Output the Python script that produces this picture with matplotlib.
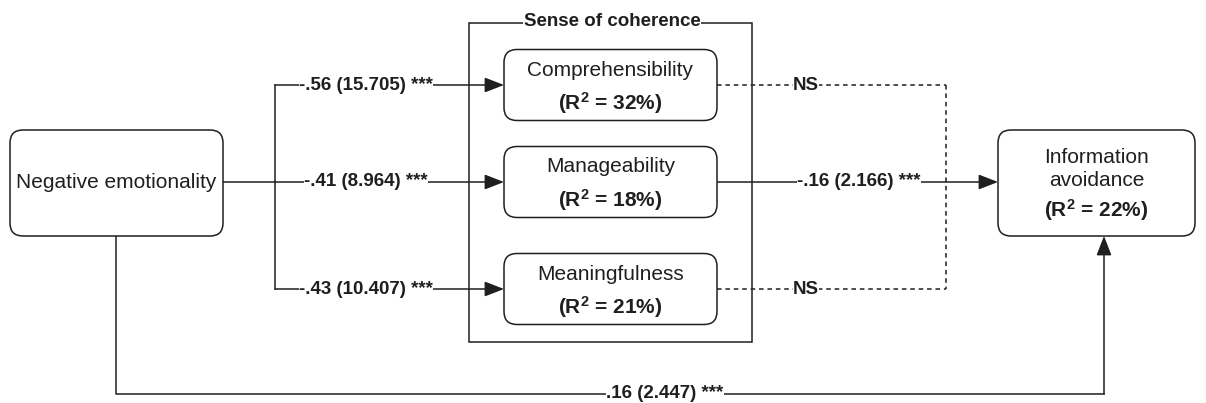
import matplotlib.pyplot as plt
from matplotlib.patches import FancyBboxPatch, Rectangle

plt.rcParams['font.family'] = ['Liberation Sans', 'DejaVu Sans']
plt.rcParams['mathtext.fontset'] = 'custom'
plt.rcParams['mathtext.rm'] = 'Liberation Sans'
plt.rcParams['mathtext.bf'] = 'Liberation Sans:bold'

# model content
predictor = 'Negative emotionality'
outcome = 'Information\navoidance'
outcome_r2 = 22
group_title = 'Sense of coherence'
mediators = ['Comprehensibility', 'Manageability', 'Meaningfulness']
mediator_r2 = [32, 18, 21]
a_paths = ['-.56 (15.705) ***', '-.41 (8.964) ***', '-.43 (10.407) ***']
b_paths = ['NS', '-.16 (2.166) ***', 'NS']
b_significant = [False, True, False]
direct_path = '.16 (2.447) ***'

# layout (pixels)
ink = '#1f1f1f'
lw = 1.1
dash = (0, (3, 2.5))
med_y = [85, 182, 289]
med_x0, med_x1 = 504, 717
med_h = 71
bracket_x = 275
pred_box = (10, 130, 213, 106)
out_box = (998, 130, 197, 106)
join_x = 946
bottom_y = 394
arrow_x = 1104

fig = plt.figure(figsize=(12.06, 4.03), dpi=100)
ax = fig.add_axes([0, 0, 1, 1])
ax.set_xlim(0, 1206)
ax.set_ylim(403, 0)
ax.axis('off')


def rbox(x, y, w, h):
    ax.add_patch(FancyBboxPatch((x, y), w, h, boxstyle='round,pad=0,rounding_size=13',
                                facecolor='white', edgecolor=ink, linewidth=lw, zorder=3))


def arrow(x0, y0, x1, y1):
    ax.annotate('', xy=(x1, y1), xytext=(x0, y0),
                arrowprops=dict(arrowstyle='-|>,head_length=0.85,head_width=0.33', color=ink,
                                lw=lw, shrinkA=0, shrinkB=0, mutation_scale=14), zorder=2)


def label(x, y, s, size=13.5):
    ax.text(x, y, s, ha='center', va='center', fontsize=size, fontweight='bold', color=ink,
            bbox=dict(facecolor='white', edgecolor='none', pad=0.3), zorder=4)


def r2(v):
    return r'($\mathbf{R^2}$ = ' + f'{v}%)'


# group frame
ax.add_patch(Rectangle((469, 23), 283, 319, fill=False, edgecolor=ink, linewidth=lw, zorder=1))
label(612, 22, group_title, size=13.5)

# predictor
rbox(*pred_box)
ax.text(pred_box[0] + pred_box[2] / 2, 183, predictor, ha='center', va='center', fontsize=15, color=ink, zorder=4)

# outcome
rbox(*out_box)
cx = out_box[0] + out_box[2] / 2
ax.text(cx, 169, outcome, ha='center', va='center', fontsize=15, color=ink, zorder=4, linespacing=1.25)
ax.text(cx, 210, r2(outcome_r2), ha='center', va='center', fontsize=15, fontweight='bold', color=ink, zorder=4)

# a paths
ax.plot([pred_box[0] + pred_box[2], bracket_x], [med_y[1], med_y[1]], color=ink, lw=lw, zorder=1)
ax.plot([bracket_x, bracket_x], [med_y[0], med_y[2]], color=ink, lw=lw, zorder=1)
for y, s in zip(med_y, a_paths):
    arrow(bracket_x, y, med_x0, y)
    label(366, y, s)

# mediators
for y, name, v in zip(med_y, mediators, mediator_r2):
    rbox(med_x0, y - med_h / 2, med_x1 - med_x0, med_h)
    ax.text((med_x0 + med_x1) / 2, y - 15, name, ha='center', va='center', fontsize=15, color=ink, zorder=4)
    ax.text((med_x0 + med_x1) / 2, y + 18, r2(v), ha='center', va='center', fontsize=15,
            fontweight='bold', color=ink, zorder=4)

# b paths
for y, s, sig in zip(med_y, b_paths, b_significant):
    if sig:
        arrow(med_x1, y, out_box[0], y)
        label(859, y, s)
    else:
        ax.plot([med_x1, join_x], [y, y], color=ink, lw=lw, ls=dash, zorder=1)
        label(806, y, s)
ax.plot([join_x, join_x], [med_y[0], med_y[2]], color=ink, lw=lw, ls=dash, zorder=1)

# direct path
px = pred_box[0] + pred_box[2] / 2 - 0.5
ax.plot([px, px, arrow_x], [pred_box[1] + pred_box[3], bottom_y, bottom_y], color=ink, lw=lw, zorder=1)
arrow(arrow_x, bottom_y, arrow_x, out_box[1] + out_box[3])
label(665, bottom_y, direct_path)

fig.savefig('out.png', dpi=100, facecolor='white')
